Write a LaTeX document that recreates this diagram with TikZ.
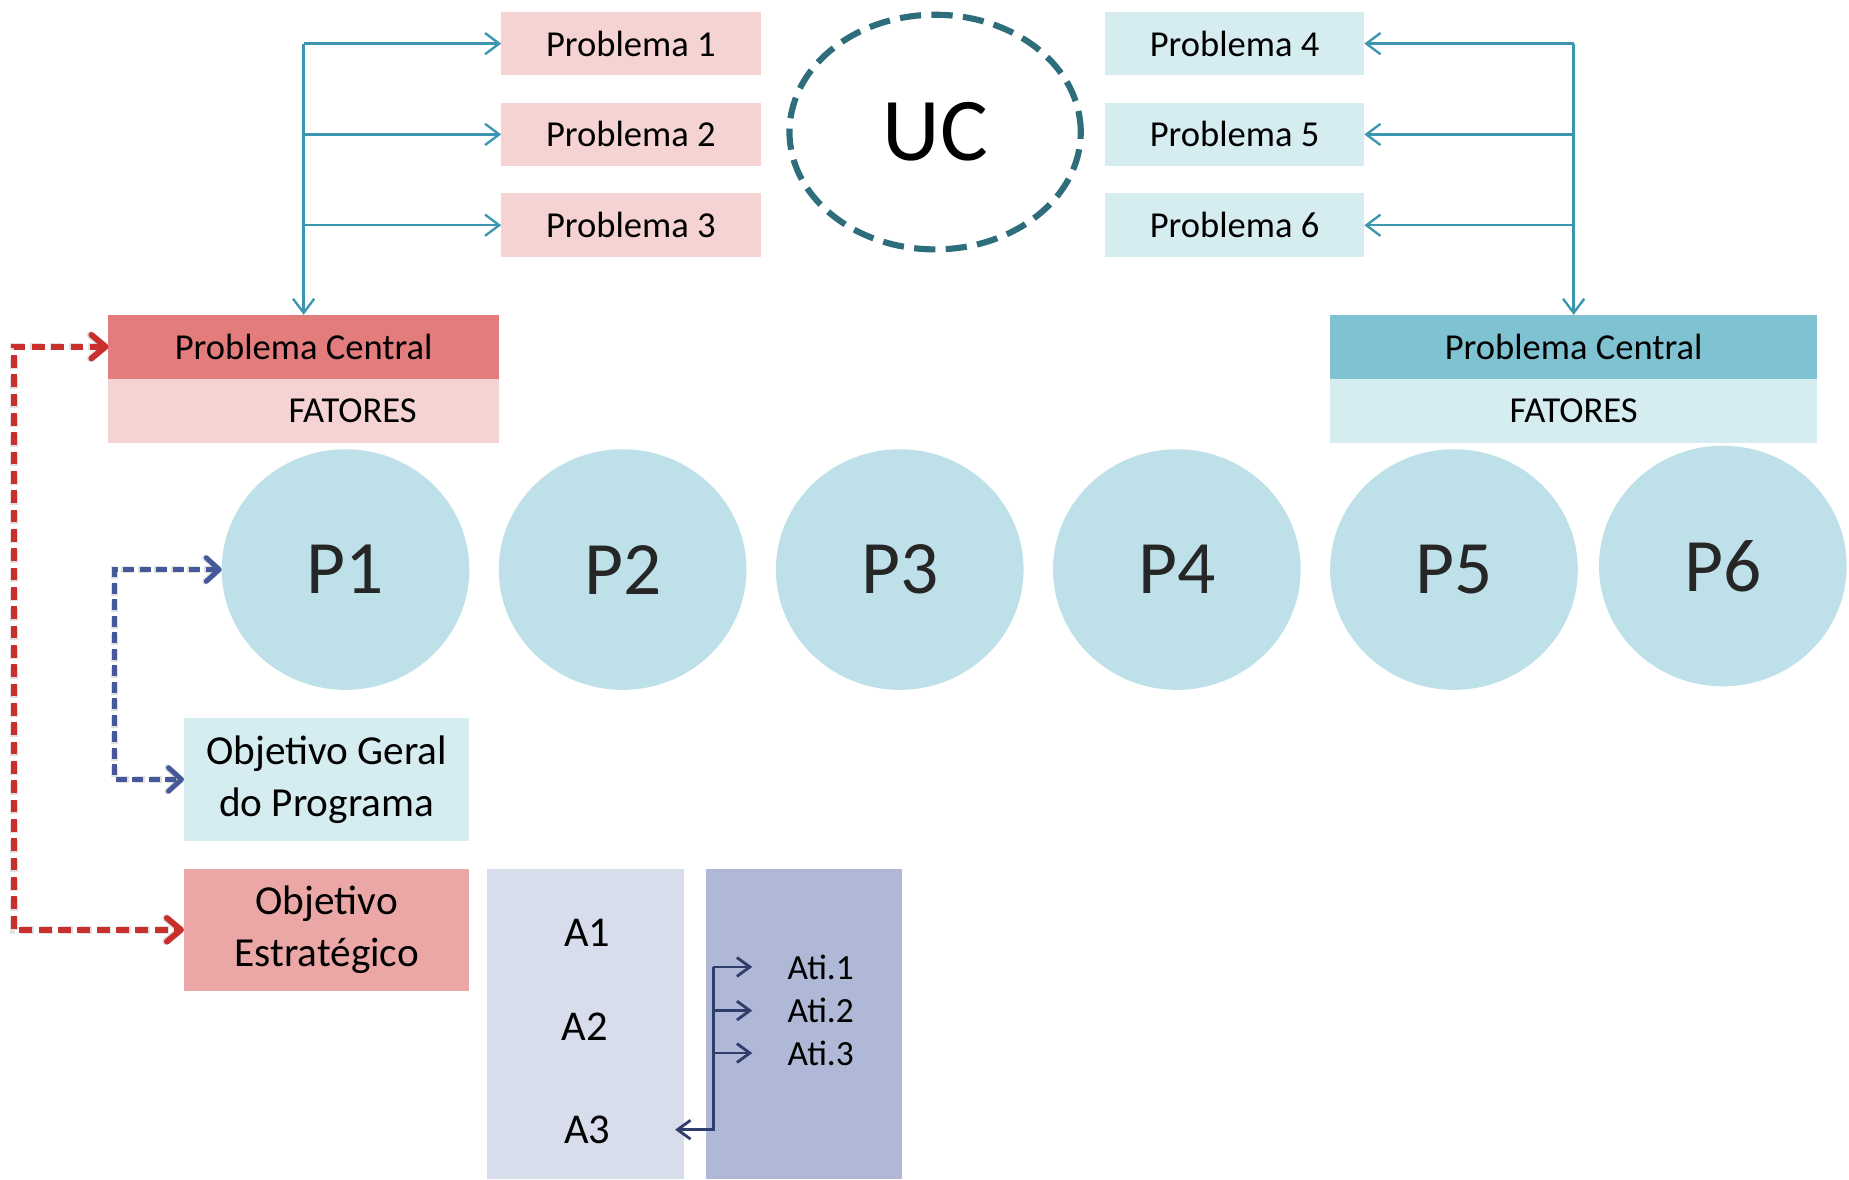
\documentclass[tikz,border=0pt]{standalone}
\usepackage{fontspec}
\setmainfont{Carlito}
\usetikzlibrary{arrows.meta,shapes.geometric}
\definecolor{pinkl}{HTML}{F5D3D3}
\definecolor{salmon}{HTML}{E37C7C}
\definecolor{oecol}{HTML}{EBA6A6}
\definecolor{bluel}{HTML}{D5ECF1}
\definecolor{bluepc}{HTML}{7FC3D3}
\definecolor{circ}{HTML}{BEE1E9}
\definecolor{acol}{HTML}{D7DDEB}
\definecolor{aticol}{HTML}{AFB9D7}
\definecolor{tealc}{HTML}{3C96B0}
\definecolor{ucc}{HTML}{2D6D7C}
\definecolor{redc}{HTML}{C9302C}
\definecolor{bluec}{HTML}{44589A}
\definecolor{navyc}{HTML}{2E3D6B}
\definecolor{ptext}{HTML}{262626}
\begin{document}
\begin{tikzpicture}[x=0.5pt,y=-0.5pt,
  boxbase/.style={rectangle, inner sep=0pt, outer sep=0pt, text=black},
  pbox/.style={boxbase, minimum width=110pt, minimum height=27pt, font=\fontsize{15.5}{18}\selectfont},
  pcbox/.style={boxbase, minimum height=27pt, font=\fontsize{15.5}{18}\selectfont},
  fatbox/.style={boxbase, minimum height=27.5pt, font=\fontsize{15.5}{18}\selectfont},
  pcirc/.style={ellipse, fill=circ, inner sep=0pt, outer sep=0pt, minimum width=105pt, minimum height=102pt, text=ptext, font=\fontsize{32}{36}\selectfont},
  objbox/.style={boxbase, minimum width=121pt, align=center, font=\fontsize{17.5}{22}\selectfont},
  atext/.style={inner sep=0pt, outer sep=0pt, font=\fontsize{18}{20}\selectfont},
  atitext/.style={inner sep=0pt, outer sep=0pt, font=\fontsize{15}{18}\selectfont},
  tealarrow/.style={draw=tealc, line width=1pt, -{Straight Barb[length=6pt,width=9pt]}},
  navyarrow/.style={draw=navyc, line width=1.2pt, -{Straight Barb[length=5.5pt,width=8pt]}},
  reddash/.style={draw=redc, line width=2.5pt, dash pattern=on 5.4pt off 2.8pt,
     {Straight Barb[length=6pt,width=10pt,round]}-{Straight Barb[length=6pt,width=10pt,round]}},
  bluedash/.style={draw=bluec, line width=2.1pt, dash pattern=on 4.7pt off 2.3pt,
     {Straight Barb[length=5.5pt,width=10pt,round]}-{Straight Barb[length=5.5pt,width=10pt,round]}},
  shade/.style={draw=black, draw opacity=0.12, shift={(2.4,2.8)}}
]
\useasboundingbox (0,0) rectangle (1568,1000);

% problem boxes
\node[pbox, fill=pinkl] (pb1) at (535,37) {Problema 1};
\node[pbox, fill=pinkl] (pb2) at (535,114) {Problema 2};
\node[pbox, fill=pinkl] (pb3) at (535,191) {Problema 3};
\node[pbox, fill=bluel] (pb4) at (1047,37) {Problema 4};
\node[pbox, fill=bluel] (pb5) at (1047,114) {Problema 5};
\node[pbox, fill=bluel] (pb6) at (1047,191) {Problema 6};

% UC
\node[ellipse, draw=ucc, line width=2.6pt, dash pattern=on 9pt off 4.4pt, inner sep=0pt,
      minimum width=123.5pt, minimum height=99.5pt, font=\fontsize{38}{40}\selectfont] (uc) at (793,112) {UC};

% central problems
\node[pcbox, fill=salmon, minimum width=165.5pt] (pcl) at (257.5,294) {Problema Central};
\node[fatbox, fill=pinkl, minimum width=165.5pt] (fcl) at (257.5,348.5) {\hspace*{41.5pt}FATORES};
\node[pcbox, fill=bluepc, minimum width=206.5pt] (pcr) at (1334.5,294) {Problema Central};
\node[fatbox, fill=bluel, minimum width=206.5pt] (fcr) at (1334.5,348.5) {FATORES};

% circles
\node[pcirc] (p1) at (293,483) {P1};
\node[pcirc] (p2) at (528,483) {P2};
\node[pcirc] (p3) at (763,483) {P3};
\node[pcirc] (p4) at (998,483) {P4};
\node[pcirc] (p5) at (1233,483) {P5};
\node[pcirc] (p6) at (1461,480) {P6};

% objectives
\node[objbox, fill=bluel, minimum height=52pt] (og) at (277,661) {Objetivo Geral\\do Programa};
\node[objbox, fill=oecol, minimum height=51.5pt] (oe) at (277,788.5) {Objetivo\\Estratégico};

% action columns
\node[boxbase, fill=acol, minimum width=83.5pt, minimum height=131.5pt] (ab) at (496.5,868.5) {};
\node[boxbase, fill=aticol, minimum width=83pt, minimum height=131.5pt] (atb) at (682,868.5) {};
\node[atext] (a1) at (498,791) {A1};
\node[atext] (a2) at (496,871) {A2};
\node[atext] (a3) at (498,958) {A3};
\node[atitext] (ati1) at (696,820) {Ati.1};
\node[atitext] (ati2) at (696,857) {Ati.2};
\node[atitext] (ati3) at (696,893) {Ati.3};

% teal connectors
\draw[tealarrow] (pcl.north |- pb1.west) -- (pb1.west);
\draw[tealarrow] (pcl.north |- pb2.west) -- (pb2.west);
\draw[tealarrow] (pcl.north |- pb3.west) -- (pb3.west);
\draw[tealarrow] (pcl.north |- pb1.west) -- (pcl.north);
\draw[tealarrow] (pcr.north |- pb4.east) -- (pb4.east);
\draw[tealarrow] (pcr.north |- pb5.east) -- (pb5.east);
\draw[tealarrow] (pcr.north |- pb6.east) -- (pb6.east);
\draw[tealarrow] (pcr.north |- pb4.east) -- (pcr.north);

% navy connectors
\coordinate (nj) at ([xshift=3pt]atb.west);
\draw[navyarrow] (nj |- ati1.west) -- ([xshift=-15pt]ati1.west);
\draw[navyarrow] (nj |- ati2.west) -- ([xshift=-15pt]ati2.west);
\draw[navyarrow] (nj |- ati3.west) -- ([xshift=-15pt]ati3.west);
\draw[navyarrow] (nj |- ati1.west) -- (nj |- a3.east) -- ([xshift=27.5pt]a3.east);

% dashed connectors with soft shadow
\draw[reddash, shade, line width=3.2pt] (pcl.west) -- ++(-80,0) |- (oe.west);
\draw[bluedash, shade, line width=2.8pt] (p1.west) -- ++(-91,0) |- (og.west);
\draw[reddash] (pcl.west) -- ++(-80,0) |- (oe.west);
\draw[bluedash] (p1.west) -- ++(-91,0) |- (og.west);
\end{tikzpicture}
\end{document}
